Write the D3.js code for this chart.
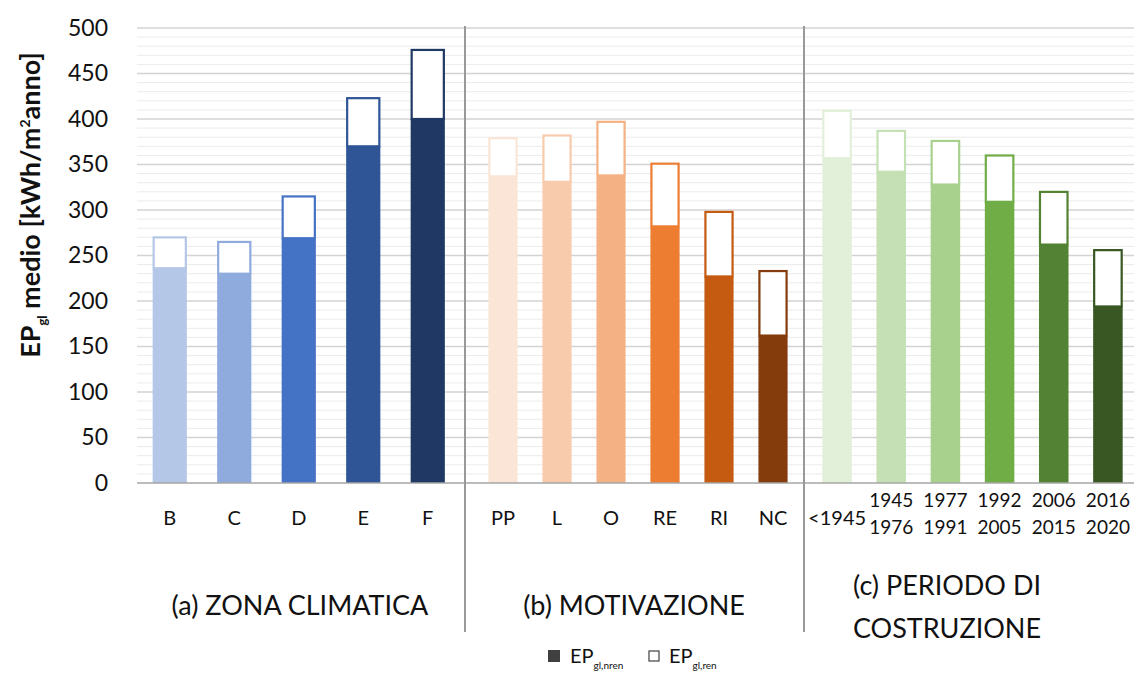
<!DOCTYPE html>
<html>
<head>
<meta charset="utf-8">
<script src="https://cdn.jsdelivr.net/npm/d3@7"></script>
<style>
  body { margin: 0; background: #fff; }
  text { font-family: Lato, "Open Sans", sans-serif; fill: #111; }
</style>
</head>
<body>
<div id="chart"></div>
<script>
// data
const groupTitles = [["(a) ZONA CLIMATICA"], ["(b) MOTIVAZIONE"], ["(c) PERIODO DI", "COSTRUZIONE"]]

const zonaCats = ["B", "C", "D", "E", "F"]
const zonaNren = [236, 230, 269, 370, 400]
const zonaRen = [35, 36, 47, 54, 77]
const zonaColors = ["#b4c7e7", "#8faadc", "#4472c4", "#2f5597", "#1f3864"]

const motivCats = ["PP", "L", "O", "RE", "RI", "NC"]
const motivNren = [337, 331, 338, 282, 227, 162]
const motivRen = [43, 52, 60, 70, 72, 72]
const motivColors = ["#fbe5d6", "#f8cbad", "#f4b183", "#ed7d31", "#c55a11", "#843c0c"]

const periodCats = ["<1945", "1945 1976", "1977 1991", "1992 2005", "2006 2015", "2016 2020"]
const periodNren = [357, 342, 328, 309, 262, 194]
const periodRen = [53, 46, 49, 52, 59, 63]
const periodColors = ["#e2f0d9", "#c5e0b4", "#a9d18e", "#70ad47", "#548235", "#385723"]

const yTicks = [0, 50, 100, 150, 200, 250, 300, 350, 400, 450, 500]

const width = 1137, height = 674

let svg = d3.select('#chart')
    .append('svg')
    .attr('width', width)
    .attr('height', height)

let y = d3.scaleLinear().domain([0, 500]).range([483, 28])

const plotLeft = 137, plotRight = 1134

// minor + major gridlines
svg.append('g')
    .selectAll('line')
    .data(d3.range(10, 501, 10).filter(v => v % 50 != 0))
    .join('line')
    .attr('x1', plotLeft).attr('x2', plotRight)
    .attr('y1', d => y(d)).attr('y2', d => y(d))
    .attr('stroke', '#ebebeb').attr('stroke-width', 1)

svg.append('g')
    .selectAll('line')
    .data(yTicks.filter(v => v > 0))
    .join('line')
    .attr('x1', plotLeft).attr('x2', plotRight)
    .attr('y1', d => y(d)).attr('y2', d => y(d))
    .attr('stroke', '#d3d3d3').attr('stroke-width', 1.5)

// y axis labels
let yAxis = svg.append('g')
    .attr('transform', 'translate(112,0)')
    .call(d3.axisLeft(y).tickValues(yTicks).tickSize(0).tickPadding(4))
yAxis.select('.domain').remove()
yAxis.selectAll('text')
    .style('font-family', 'Lato, sans-serif')
    .style('font-size', '23px')
    .attr('fill', '#111')

// y title
let yTitle = svg.append('text')
    .attr('transform', 'translate(40,205) rotate(-90)')
    .attr('text-anchor', 'middle')
    .style('font-size', '27px')
    .style('font-weight', 'bold')
yTitle.append('tspan').text('EP')
yTitle.append('tspan').text('gl').style('font-size', '13px').attr('dy', 7)
yTitle.append('tspan').text(' medio [kWh/m').attr('dy', -7)
yTitle.append('tspan').text('2').style('font-size', '14px').attr('dy', -10)
yTitle.append('tspan').text('anno]').attr('dy', 10)

const groups = [
    {cats: zonaCats, nren: zonaNren, ren: zonaRen, colors: zonaColors, range: [137.5, 460], pad: 0.47},
    {cats: motivCats, nren: motivNren, ren: motivRen, colors: motivColors, range: [476, 800], pad: 0.46},
    {cats: periodCats, nren: periodNren, ren: periodRen, colors: periodColors, range: [810, 1135], pad: 0.455}
]
const titleX = [300, 634, 947]

groups.forEach((g, gi) => {
    let x = d3.scaleBand().domain(g.cats).range(g.range)
        .paddingInner(g.pad).paddingOuter(g.pad / 2)

    let rows = g.cats.map((c, i) => ({cat: c, nren: g.nren[i], ren: g.ren[i], color: g.colors[i]}))

    let bars = svg.append('g')
    bars.selectAll('.nren')
        .data(rows)
        .join('rect')
        .attr('x', d => x(d.cat))
        .attr('width', x.bandwidth())
        .attr('y', d => y(d.nren))
        .attr('height', d => y(0) - y(d.nren))
        .attr('fill', d => d.color)

    bars.selectAll('.ren')
        .data(rows)
        .join('rect')
        .attr('x', d => x(d.cat) + 1)
        .attr('width', x.bandwidth() - 2)
        .attr('y', d => y(d.nren + d.ren) + 1)
        .attr('height', d => y(d.nren) - y(d.nren + d.ren) - 1)
        .attr('fill', '#fff')
        .attr('stroke', d => d.color)
        .attr('stroke-width', 2.2)

    // category labels
    rows.forEach(d => {
        let parts = d.cat.split(' ')
        let cx = x(d.cat) + x.bandwidth() / 2
        let t = svg.append('text')
            .attr('x', cx)
            .attr('text-anchor', 'middle')
            .style('font-size', parts.length == 1 ? '20px' : '19px')
        if (parts.length == 1) {
            t.attr('y', 525).text(parts[0])
        } else {
            t.append('tspan').attr('x', cx).attr('y', 507).text(parts[0])
            t.append('tspan').attr('x', cx).attr('y', 534).text(parts[1])
        }
    })

    // group title
    let lines = groupTitles[gi]
    let ty = lines.length == 1 ? 615 : 595
    lines.forEach((l, li) => {
        svg.append('text')
            .attr('x', titleX[gi])
            .attr('y', ty + li * 43)
            .attr('text-anchor', 'middle')
            .style('font-size', '27px')
            .text(l)
    })
})

// baseline
svg.append('line')
    .attr('x1', plotLeft).attr('x2', plotRight)
    .attr('y1', y(0)).attr('y2', y(0))
    .attr('stroke', '#a6a6a6').attr('stroke-width', 1.5)

// group separators
svg.selectAll('.sep')
    .data([465, 804])
    .join('line')
    .attr('x1', d => d).attr('x2', d => d)
    .attr('y1', 26).attr('y2', 632)
    .attr('stroke', '#999').attr('stroke-width', 2)

// legend
let legend = svg.append('g')
legend.append('rect').attr('x', 548).attr('y', 650).attr('width', 12).attr('height', 12).attr('fill', '#404040')
let l1 = legend.append('text').attr('x', 570).attr('y', 663).style('font-size', '20px')
l1.append('tspan').text('EP')
l1.append('tspan').text('gl,nren').style('font-size', '10px').attr('dy', 6)

legend.append('rect').attr('x', 649).attr('y', 651).attr('width', 10).attr('height', 10)
    .attr('fill', '#fff').attr('stroke', '#404040').attr('stroke-width', 1.2)
let l2 = legend.append('text').attr('x', 669).attr('y', 663).style('font-size', '20px')
l2.append('tspan').text('EP')
l2.append('tspan').text('gl,ren').style('font-size', '10px').attr('dy', 6)
</script>
</body>
</html>
